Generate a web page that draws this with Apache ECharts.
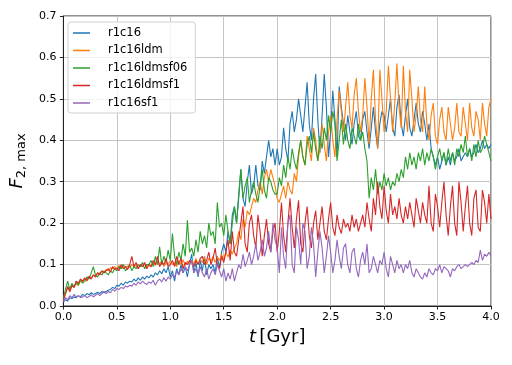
<!DOCTYPE html>
<html><head><meta charset="utf-8">
<script src="https://cdn.jsdelivr.net/npm/echarts@6/dist/echarts.min.js"></script>
<style>html,body{margin:0;padding:0;background:#fff}#c{width:512px;height:365px}</style>
</head><body><div id="c"></div>
<script>
const DT = 0.02; // sampling step in Gyr, t = index * DT
const seriesNames = ['r1c16','r1c16ldm','r1c16ldmsf06','r1c16ldmsf1','r1c16sf1'];
const xTicks = ['0.0','0.5','1.0','1.5','2.0','2.5','3.0','3.5','4.0'];
const yTicks = ['0.0','0.1','0.2','0.3','0.4','0.5','0.6','0.7'];

const r1c16 = [
0.010,0.015,0.012,0.020,0.018,0.022,0.020,0.025,0.022,0.028,
0.025,0.030,0.027,0.032,0.028,0.030,0.033,0.030,0.035,0.032,
0.035,0.038,0.040,0.045,0.042,0.050,0.048,0.055,0.050,0.058,
0.055,0.060,0.058,0.065,0.060,0.068,0.062,0.070,0.065,0.072,
0.068,0.075,0.070,0.080,0.075,0.085,0.078,0.090,0.080,0.095,
0.070,0.085,0.060,0.090,0.075,0.100,0.080,0.095,0.070,0.100,
0.125,0.080,0.105,0.070,0.110,0.085,0.120,0.075,0.100,0.090,
0.100,0.080,0.120,0.090,0.130,0.150,0.130,0.180,0.150,0.220,
0.240,0.200,0.260,0.330,0.260,0.240,0.300,0.340,0.270,0.290,
0.340,0.290,0.280,0.350,0.320,0.360,0.400,0.360,0.380,0.340,
0.380,0.340,0.360,0.430,0.380,0.350,0.440,0.470,0.420,0.450,
0.500,0.460,0.420,0.480,0.540,0.440,0.400,0.500,0.560,0.450,
0.370,0.460,0.560,0.480,0.360,0.420,0.520,0.450,0.360,0.530,
0.480,0.440,0.400,0.460,0.420,0.390,0.440,0.470,0.410,0.400,
0.450,0.470,0.420,0.380,0.430,0.480,0.420,0.380,0.440,0.470,
0.460,0.420,0.460,0.500,0.430,0.410,0.480,0.510,0.440,0.410,
0.460,0.500,0.430,0.410,0.450,0.490,0.440,0.420,0.470,0.440,
0.400,0.440,0.380,0.360,0.340,0.360,0.330,0.350,0.370,0.340,
0.360,0.340,0.370,0.350,0.360,0.380,0.350,0.360,0.370,0.360,
0.380,0.360,0.370,0.390,0.370,0.380,0.400,0.380,0.390,0.380,
0.390];

const r1c16ldm = [
0.015,0.030,0.045,0.035,0.050,0.045,0.055,0.050,0.060,0.058,
0.065,0.060,0.070,0.068,0.075,0.072,0.080,0.078,0.085,0.080,
0.088,0.085,0.092,0.090,0.095,0.088,0.098,0.090,0.100,0.093,
0.097,0.092,0.100,0.095,0.098,0.090,0.100,0.095,0.102,0.096,
0.100,0.094,0.104,0.098,0.108,0.100,0.110,0.095,0.105,0.100,
0.110,0.100,0.105,0.095,0.110,0.100,0.112,0.098,0.108,0.100,
0.110,0.102,0.115,0.100,0.112,0.105,0.118,0.100,0.115,0.108,
0.120,0.105,0.118,0.110,0.125,0.112,0.130,0.118,0.135,0.125,
0.140,0.150,0.180,0.160,0.210,0.190,0.230,0.220,0.240,0.260,
0.250,0.280,0.300,0.270,0.310,0.330,0.300,0.330,0.310,0.290,
0.260,0.250,0.270,0.290,0.260,0.300,0.280,0.270,0.320,0.300,
0.360,0.400,0.360,0.340,0.410,0.380,0.350,0.430,0.400,0.350,
0.380,0.440,0.390,0.350,0.420,0.460,0.400,0.360,0.450,0.520,
0.470,0.420,0.480,0.540,0.460,0.430,0.510,0.550,0.470,0.420,
0.460,0.550,0.480,0.390,0.500,0.570,0.450,0.380,0.570,0.500,
0.420,0.470,0.580,0.500,0.420,0.490,0.585,0.480,0.430,0.580,
0.470,0.420,0.570,0.500,0.420,0.460,0.530,0.450,0.420,0.530,
0.440,0.400,0.460,0.490,0.410,0.390,0.450,0.480,0.420,0.400,
0.480,0.440,0.400,0.430,0.490,0.420,0.410,0.480,0.440,0.400,
0.490,0.430,0.410,0.470,0.450,0.400,0.490,0.440,0.410,0.480,
0.500];

const r1c16ldmsf06 = [
0.020,0.040,0.060,0.040,0.055,0.045,0.060,0.050,0.065,0.055,
0.060,0.070,0.065,0.080,0.095,0.075,0.070,0.080,0.075,0.085,
0.080,0.075,0.085,0.080,0.090,0.085,0.095,0.090,0.100,0.085,
0.090,0.100,0.085,0.095,0.090,0.100,0.095,0.105,0.090,0.100,
0.100,0.110,0.095,0.120,0.100,0.143,0.100,0.120,0.105,0.135,
0.110,0.175,0.120,0.100,0.130,0.110,0.150,0.120,0.207,0.130,
0.140,0.120,0.160,0.130,0.180,0.150,0.170,0.140,0.200,0.170,
0.180,0.150,0.250,0.190,0.200,0.170,0.220,0.180,0.150,0.200,
0.240,0.200,0.270,0.330,0.260,0.290,0.310,0.250,0.280,0.300,
0.270,0.250,0.290,0.330,0.280,0.260,0.310,0.300,0.280,0.270,
0.270,0.310,0.290,0.340,0.310,0.360,0.330,0.380,0.350,0.330,
0.370,0.400,0.360,0.340,0.390,0.410,0.370,0.420,0.380,0.350,
0.410,0.380,0.430,0.400,0.460,0.420,0.470,0.440,0.350,0.400,
0.450,0.390,0.440,0.400,0.380,0.430,0.410,0.390,0.440,0.400,
0.420,0.380,0.350,0.260,0.310,0.280,0.330,0.270,0.300,0.280,
0.320,0.290,0.310,0.280,0.300,0.290,0.320,0.300,0.330,0.310,
0.360,0.330,0.370,0.340,0.360,0.330,0.370,0.350,0.380,0.340,
0.370,0.350,0.380,0.360,0.330,0.360,0.380,0.350,0.370,0.340,
0.380,0.350,0.370,0.340,0.380,0.360,0.390,0.370,0.410,0.360,
0.380,0.350,0.390,0.360,0.400,0.370,0.380,0.410,0.390,0.370,
0.350];

const r1c16ldmsf1 = [
0.015,0.030,0.047,0.035,0.050,0.045,0.060,0.055,0.065,0.060,
0.068,0.062,0.072,0.065,0.075,0.070,0.080,0.075,0.085,0.080,
0.085,0.090,0.082,0.095,0.088,0.092,0.085,0.100,0.090,0.095,
0.088,0.100,0.120,0.095,0.105,0.090,0.100,0.095,0.105,0.090,
0.100,0.095,0.110,0.100,0.120,0.095,0.105,0.100,0.115,0.095,
0.100,0.110,0.095,0.120,0.100,0.115,0.090,0.105,0.100,0.110,
0.105,0.095,0.110,0.100,0.115,0.120,0.100,0.110,0.130,0.100,
0.115,0.140,0.100,0.090,0.120,0.105,0.130,0.160,0.110,0.180,
0.130,0.120,0.160,0.200,0.240,0.150,0.130,0.200,0.220,0.170,
0.140,0.220,0.180,0.120,0.170,0.210,0.150,0.130,0.180,0.200,
0.130,0.180,0.250,0.170,0.130,0.200,0.260,0.190,0.140,0.210,
0.255,0.150,0.130,0.200,0.240,0.170,0.140,0.200,0.230,0.160,
0.200,0.240,0.180,0.160,0.210,0.250,0.190,0.170,0.220,0.190,
0.175,0.210,0.190,0.200,0.180,0.220,0.190,0.210,0.180,0.200,
0.220,0.190,0.250,0.210,0.180,0.260,0.220,0.300,0.240,0.210,
0.290,0.230,0.200,0.270,0.220,0.240,0.210,0.260,0.220,0.200,
0.240,0.210,0.250,0.220,0.190,0.260,0.230,0.200,0.250,0.220,
0.200,0.290,0.200,0.180,0.270,0.240,0.190,0.250,0.300,0.220,
0.170,0.240,0.290,0.200,0.170,0.300,0.250,0.180,0.240,0.290,
0.200,0.170,0.260,0.280,0.190,0.180,0.280,0.250,0.200,0.270,
0.210];

const r1c16sf1 = [
0.010,0.020,0.015,0.025,0.020,0.028,0.022,0.025,0.020,0.022,
0.025,0.020,0.023,0.027,0.022,0.026,0.030,0.025,0.030,0.035,
0.030,0.035,0.032,0.040,0.036,0.042,0.040,0.045,0.042,0.048,
0.046,0.050,0.048,0.055,0.050,0.058,0.053,0.060,0.055,0.052,
0.058,0.055,0.062,0.050,0.060,0.065,0.058,0.068,0.060,0.070,
0.065,0.075,0.070,0.085,0.075,0.090,0.080,0.095,0.085,0.100,
0.110,0.080,0.090,0.075,0.095,0.080,0.070,0.090,0.065,0.080,
0.090,0.075,0.100,0.085,0.070,0.090,0.060,0.080,0.065,0.090,
0.060,0.080,0.100,0.090,0.125,0.095,0.110,0.130,0.100,0.120,
0.150,0.110,0.130,0.160,0.120,0.140,0.180,0.130,0.200,0.160,
0.140,0.080,0.190,0.120,0.090,0.200,0.220,0.100,0.080,0.190,
0.160,0.100,0.200,0.180,0.090,0.120,0.190,0.150,0.070,0.130,
0.180,0.140,0.080,0.120,0.170,0.130,0.080,0.110,0.160,0.120,
0.090,0.140,0.150,0.100,0.080,0.130,0.140,0.090,0.070,0.110,
0.130,0.100,0.150,0.080,0.090,0.120,0.100,0.080,0.110,0.100,
0.130,0.090,0.070,0.120,0.100,0.080,0.110,0.090,0.100,0.080,
0.100,0.090,0.110,0.080,0.070,0.090,0.080,0.070,0.065,0.080,
0.070,0.090,0.080,0.075,0.090,0.085,0.100,0.080,0.095,0.090,
0.085,0.070,0.090,0.085,0.095,0.100,0.090,0.095,0.100,0.095,
0.100,0.105,0.100,0.110,0.105,0.135,0.110,0.125,0.120,0.130,
0.120];

const colors = ['#1f77b4','#ff7f0e','#2ca02c','#d62728','#9467bd'];
const allValues = [r1c16, r1c16ldm, r1c16ldmsf06, r1c16ldmsf1, r1c16sf1];
const FONT = 'DejaVu Sans';

const chart = echarts.init(document.getElementById('c'), null, {renderer: 'canvas'});
chart.setOption({
  animation: false,
  backgroundColor: '#fff',
  color: colors,
  grid: {left: 63, right: 21, top: 16, bottom: 59, show: true, borderColor: '#222', borderWidth: 1, backgroundColor: 'transparent'},
  legend: {
    orient: 'vertical', left: 68, top: 22,
    data: seriesNames.map(n => ({name: n, icon: 'rect'})),
    itemWidth: 17, itemHeight: 1.5, itemGap: 5.5,
    backgroundColor: 'rgba(255,255,255,0.8)', borderColor: '#d0d0d0', borderWidth: 1, borderRadius: 3,
    padding: [5, 8, 4, 5],
    textStyle: {fontFamily: FONT, fontSize: 11.5, color: '#000', padding: [0, 0, 0, 13], lineHeight: 12}
  },
  xAxis: {
    type: 'value', min: 0, max: 4, interval: 0.5,
    name: '{i|t} {r|[Gyr]}', nameLocation: 'middle', nameGap: 22,
    nameTextStyle: {rich: {i: {fontFamily: FONT, fontStyle: 'italic', fontSize: 18, color: '#000'}, r: {fontFamily: FONT, fontSize: 18, color: '#000'}}},
    axisLine: {lineStyle: {color: '#222', width: 1}},
    axisTick: {length: 3.5, lineStyle: {color: '#222'}},
    axisLabel: {fontFamily: FONT, fontSize: 11, color: '#000', margin: 6, formatter: v => xTicks[Math.round(v / 0.5)]},
    splitLine: {show: true, lineStyle: {color: '#c4c4c4', width: 1}}
  },
  yAxis: {
    type: 'value', min: 0, max: 0.7, interval: 0.1,
    name: '{i|F}{s|2, max}', nameLocation: 'middle', nameGap: 30,
    nameTextStyle: {rich: {i: {fontFamily: FONT, fontStyle: 'italic', fontSize: 18, color: '#000'}, s: {fontFamily: FONT, fontSize: 13, color: '#000', padding: [9, 0, 0, 0]}}},
    axisLine: {lineStyle: {color: '#222', width: 1}},
    axisTick: {length: 3.5, lineStyle: {color: '#222'}},
    axisLabel: {fontFamily: FONT, fontSize: 11, color: '#000', margin: 7, formatter: v => yTicks[Math.round(v / 0.1)]},
    splitLine: {show: true, lineStyle: {color: '#c4c4c4', width: 1}}
  },
  series: allValues.map((vals, k) => ({
    name: seriesNames[k], type: 'line', showSymbol: false, symbol: 'none',
    lineStyle: {width: 1.1, color: colors[k]},
    itemStyle: {color: colors[k]},
    data: vals.map((v, i) => [i * DT, v])
  }))
});
</script></body></html>
